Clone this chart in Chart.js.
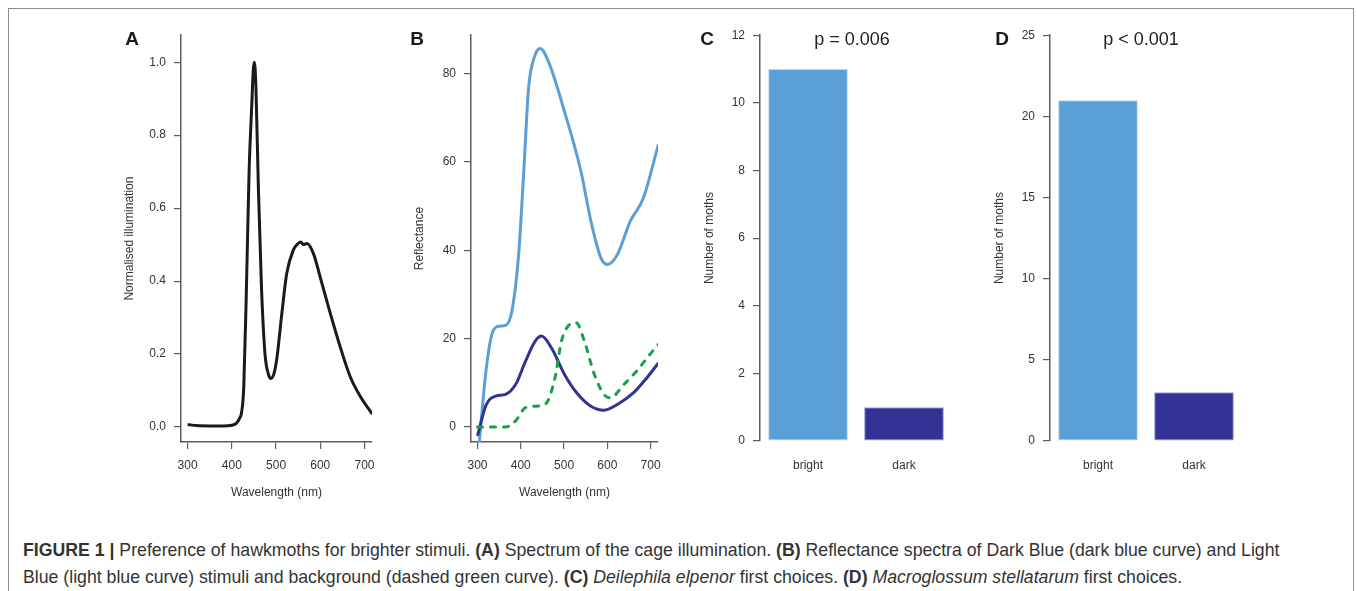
<!DOCTYPE html>
<html>
<head>
<meta charset="utf-8">
<title>Figure 1</title>
<script src="https://cdn.jsdelivr.net/npm/chart.js@4.4.1/dist/chart.umd.min.js"></script>
<style>
  html, body { margin: 0; padding: 0; background: #fff; }
  body {
    width: 1357px; height: 591px; position: relative; overflow: hidden;
    font-family: "Liberation Sans", Arial, Helvetica, sans-serif;
  }
  .frame { position: absolute; left: 8px; top: 8px; width: 1344px; height: 700px; border: 1.5px solid #8c8c8c; }
  canvas { position: absolute; }
  .tag { position: absolute; font-weight: bold; font-size: 19px; color: #1a1a1a; transform: translate(-50%, -50%); }
  .pval { position: absolute; font-size: 18px; color: #222; white-space: nowrap; transform: translate(-50%, -50%); }
  .caption {
    position: absolute; left: 23px; top: 537px; white-space: nowrap;
    font-size: 17.7px; line-height: 26.7px; color: #333;
  }
</style>
</head>
<body>
<div class="frame"></div>

<canvas id="cA" width="290" height="490" style="left:100px;top:20px"></canvas>
<canvas id="cB" width="270" height="490" style="left:400px;top:20px"></canvas>
<canvas id="cC" width="280" height="490" style="left:690px;top:20px"></canvas>
<canvas id="cD" width="280" height="490" style="left:980px;top:20px"></canvas>

<div class="tag" style="left:132px;top:39px">A</div>
<div class="tag" style="left:417px;top:39px">B</div>
<div class="tag" style="left:707px;top:39px">C</div>
<div class="tag" style="left:1002px;top:39px">D</div>

<div class="pval" style="left:852px;top:39px">p = 0.006</div>
<div class="pval" style="left:1141px;top:39px">p &lt; 0.001</div>

<div class="caption"><b>FIGURE 1 |</b> Preference of hawkmoths for brighter stimuli. <b>(A)</b> Spectrum of the cage illumination. <b>(B)</b> Reflectance spectra of Dark Blue (dark blue curve) and Light<br>Blue (light blue curve) stimuli and background (dashed green curve). <b>(C)</b> <i>Deilephila elpenor</i> first choices. <b>(D)</b> <i>Macroglossum stellatarum</i> first choices.</div>

<script>
// ---- data ----
// A: cage illumination spectrum
var illumWl  = [300, 320, 350, 380, 400, 410, 418, 422, 427, 433, 439, 445, 448.5, 451, 454.5, 460, 467, 475, 482.5, 488.5, 496, 502, 513, 524, 539, 550, 556, 562, 570, 585, 600, 623, 645, 668, 691, 718];
var illumVal = [0.007, 0.004, 0.003, 0.003, 0.005, 0.01, 0.025, 0.04, 0.11, 0.38, 0.70, 0.88, 0.98, 1.0, 0.93, 0.655, 0.383, 0.20, 0.146, 0.133, 0.15, 0.19, 0.31, 0.42, 0.485, 0.503, 0.507, 0.50, 0.503, 0.474, 0.41, 0.31, 0.22, 0.137, 0.083, 0.035];
var illumTicks  = [0, 0.2, 0.4, 0.6, 0.8, 1.0];
var illumLabels = ['0.0', '0.2', '0.4', '0.6', '0.8', '1.0'];

// B: reflectance spectra
var lightBlueWl  = [300, 320, 335, 350, 365, 380, 395, 407, 418, 433, 445, 464, 501, 539, 562, 585, 600, 623, 653, 683, 718];
var lightBlueVal = [-8, 13, 21.5, 22.8, 23, 26.5, 39, 58, 76.7, 84.2, 85.7, 82.7, 71.4, 57.9, 46.6, 38.3, 36.8, 39, 46.6, 51.8, 64];
var darkBlueWl   = [300, 320, 342, 365, 388, 411, 433, 448, 471, 501, 532, 562, 592, 623, 660, 691, 718];
var darkBlueVal  = [-2, 5, 7, 7.4, 9.6, 14.9, 19.4, 20.6, 17.9, 11.9, 7.4, 4.7, 3.8, 5.1, 7.7, 11.1, 14.5];
var bgWl         = [300, 365, 388, 411, 433, 456, 479, 494, 509, 528, 547, 570, 592, 607, 638, 668, 698, 718];
var bgVal        = [0, 0, 1.4, 4.4, 4.7, 5.1, 11.1, 19.4, 22.8, 23.6, 19.4, 11.9, 7.4, 6.6, 9.6, 12.7, 16.4, 18.7];
var reflTicks = [0, 20, 40, 60, 80];
var wlTicks   = [300, 400, 500, 600, 700];

// C / D: first choices
var choiceCats        = ['bright', 'dark'];
var elpenorCounts     = [11, 1];
var stellatarumCounts = [21, 3];

// ---- styling ----
var AX = '#5c5c5c', TXT = '#333333';
var LB = '#5a9fd5', LB_EDGE = '#b9d7ef';
var DB = '#323394', DB_EDGE = '#9c9dd3';
var GREEN = '#17a04a';

Chart.defaults.font.family = '"Liberation Sans", Arial, Helvetica, sans-serif';
Chart.defaults.color = TXT;

function pts(xs, ys) {
  return xs.map(function (x, i) { return { x: x, y: ys[i] }; });
}

function fixedTicks(list) {
  return function (s) { s.ticks = list.map(function (v) { return { value: v }; }); };
}

function yAxis(min, max, ticks, labels, title, titlePad, width) {
  return {
    type: 'linear', min: min, max: max,
    afterBuildTicks: fixedTicks(ticks),
    afterFit: function (s) { s.width = width; },
    grid: { drawOnChartArea: false, drawTicks: true, tickLength: 7, color: AX, lineWidth: 1.2 },
    border: { display: true, color: AX, width: 1.5 },
    ticks: {
      color: TXT, font: { size: 12 }, padding: 8,
      callback: function (v, i) { return labels ? labels[i] : String(v); }
    },
    title: { display: true, text: title, color: TXT, font: { size: 12 }, padding: { top: titlePad } }
  };
}

function wlAxis() {
  return {
    type: 'linear', min: 285, max: 717,
    afterBuildTicks: fixedTicks(wlTicks),
    afterFit: function (s) { s.height = 68; },
    grid: { drawOnChartArea: false, drawTicks: true, tickLength: 7, color: AX, lineWidth: 1.2 },
    border: { display: true, color: AX, width: 1.5 },
    ticks: { color: TXT, font: { size: 12 }, padding: 9, maxRotation: 0, callback: function (v) { return String(v); } },
    title: { display: true, text: 'Wavelength (nm)', color: TXT, font: { size: 12 }, padding: { bottom: 9.8 } }
  };
}

function lineSet(xs, ys, color, dash) {
  return {
    data: pts(xs, ys), borderColor: color, borderWidth: 3,
    borderDash: dash || [], borderCapStyle: dash ? 'round' : 'butt',
    pointRadius: 0, fill: false, cubicInterpolationMode: 'monotone'
  };
}

var base = {
  responsive: false, animation: false, devicePixelRatio: 1, events: [],
  plugins: { legend: { display: false }, tooltip: { enabled: false } }
};

function opts(extra) { return Object.assign({}, base, extra); }

// A
new Chart(document.getElementById('cA'), {
  type: 'line',
  data: { datasets: [lineSet(illumWl, illumVal, '#1a1a1a')] },
  options: opts({
    layout: { padding: { top: 13, right: 18, left: 0, bottom: 0 } },
    scales: {
      x: wlAxis(),
      y: yAxis(-0.041, 1.074, illumTicks, illumLabels, 'Normalised illumination', 22.8, 81)
    }
  })
});

// B
new Chart(document.getElementById('cB'), {
  type: 'line',
  data: { datasets: [
    lineSet(bgWl, bgVal, GREEN, [5, 8]),
    lineSet(darkBlueWl, darkBlueVal, DB),
    lineSet(lightBlueWl, lightBlueVal, LB)
  ] },
  options: opts({
    layout: { padding: { top: 13, right: 9, left: 0, bottom: 0 } },
    scales: {
      x: wlAxis(),
      y: yAxis(-3.4, 88.7, reflTicks, null, 'Reflectance', 12.8, 71)
    }
  })
});

// C / D
function choiceChart(id, counts, max, step) {
  var ticks = [];
  for (var v = 0; v <= max; v += step) ticks.push(v);
  return new Chart(document.getElementById(id), {
    type: 'bar',
    data: { labels: choiceCats, datasets: [{
      data: counts, backgroundColor: [LB, DB], borderColor: [LB_EDGE, DB_EDGE],
      borderWidth: 1, borderSkipped: false, categoryPercentage: 1, barPercentage: 0.83
    }] },
    options: opts({
      layout: { padding: { top: 13, right: 18, left: 0, bottom: 0 } },
      scales: {
        x: {
          grid: { display: false }, border: { display: false },
          afterFit: function (s) { s.height = 69; },
          ticks: { color: TXT, font: { size: 12 }, padding: 9 }
        },
        y: yAxis(0, max, ticks, null, 'Number of moths', 12.8, 70)
      }
    })
  });
}

choiceChart('cC', elpenorCounts, 12, 2);
choiceChart('cD', stellatarumCounts, 25, 5);
</script>
</body>
</html>
